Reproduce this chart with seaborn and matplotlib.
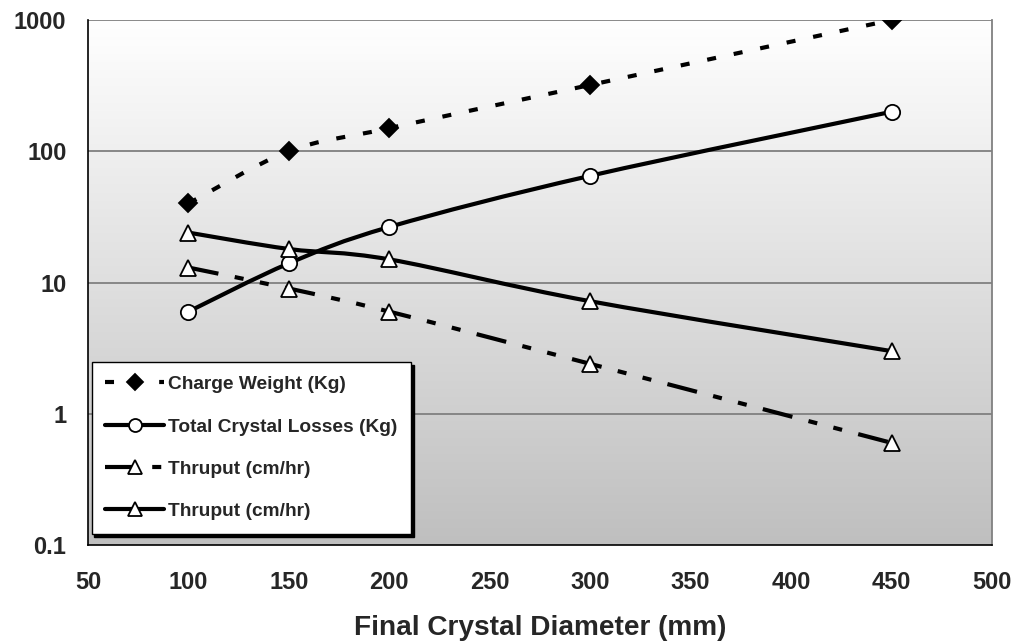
import numpy as np
import matplotlib
matplotlib.use("Agg")
import matplotlib.pyplot as plt
import seaborn as sns
import pandas as pd
from matplotlib.path import Path
from matplotlib.patches import PathPatch
from matplotlib.lines import Line2D
from matplotlib.colors import LinearSegmentedColormap

# ---- data ----
diameter = [100, 150, 200, 300, 450]
charge_weight = [40, 100, 150, 320, 1000]
crystal_losses = [6, 14, 26.5, 65, 200]
thruput_a = [13, 9, 6, 2.4, 0.6]
thruput_b = [24, 18, 15, 7.2, 3.0]
labels = ["Charge Weight (Kg)", "Total Crystal Losses (Kg)", "Thruput (cm/hr)", "Thruput (cm/hr)"]
x_ticks = [50, 100, 150, 200, 250, 300, 350, 400, 450, 500]
y_ticks = [0.1, 1, 10, 100, 1000]
y_ticklabels = ["0.1", "1", "10", "100", "1000"]

sns.set_style("white")
plt.rcParams["font.family"] = ["Liberation Sans", "DejaVu Sans"]
plt.rcParams["font.weight"] = "bold"
plt.rcParams["lines.scale_dashes"] = False

fig = plt.figure(figsize=(10.17, 6.44), dpi=100)
ax = fig.add_axes([88 / 1017, (644 - 545) / 644, 904 / 1017, 525 / 644])
ax.set_yscale("log")

# gradient background
grad = np.linspace(0, 1, 256).reshape(-1, 1)
cmap = LinearSegmentedColormap.from_list("g", ["#ffffff", "#bfbfbf"])
ax.imshow(grad, cmap=cmap, extent=[0, 1, 0, 1], transform=ax.transAxes,
          aspect="auto", zorder=0, origin="upper", interpolation="bicubic")

# gridlines
for yv in y_ticks[1:]:
    ax.axhline(yv, color="#808080", lw=1.3, zorder=1)

styles = [
    dict(ls=(0, (6.5, 13)), marker="D", mfc="black", ms=9),
    dict(ls="-", marker="o", mfc="white", ms=11),
    dict(ls=(0, (22, 12, 6.5, 12, 6.5, 12)), marker="^", mfc="white", ms=12),
    dict(ls="-", marker="^", mfc="white", ms=12),
]
series = [charge_weight, crystal_losses, thruput_a, thruput_b]
LW = 3.0


def smooth_path(xs, ys):
    xs = np.asarray(xs, float)
    ly = np.log10(np.asarray(ys, float))
    P = np.column_stack([xs, ly])
    n = len(P)
    verts = [P[0]]
    codes = [Path.MOVETO]
    for i in range(n - 1):
        p0 = P[i - 1] if i > 0 else P[i]
        p1 = P[i]
        p2 = P[i + 1]
        p3 = P[i + 2] if i + 2 < n else P[i + 1]
        c1 = p1 + (p2 - p0) / 6.0
        c2 = p2 - (p3 - p1) / 6.0
        verts += [c1, c2, p2]
        codes += [Path.CURVE4] * 3
    V = np.array(verts)
    V[:, 1] = 10 ** V[:, 1]
    return Path(V, codes)


handles = []
for ys, st, lab in zip(series, styles, labels):
    patch = PathPatch(smooth_path(diameter, ys), fill=False, edgecolor="black",
                      lw=LW, linestyle=st["ls"], capstyle="butt", zorder=3)
    ax.add_patch(patch)
    df = pd.DataFrame({"x": diameter, "y": ys})
    sns.lineplot(data=df, x="x", y="y", ax=ax, linestyle="none", marker=st["marker"],
                 markerfacecolor=st["mfc"], markeredgecolor="black", markeredgewidth=1.3,
                 markersize=st["ms"], zorder=4, legend=False)
    handles.append(Line2D([], [], color="black", lw=LW, linestyle=st["ls"],
                          marker=st["marker"], markerfacecolor=st["mfc"],
                          markeredgecolor="black", markeredgewidth=1.3,
                          markersize=st["ms"] * 0.85, dash_capstyle="butt"))

ax.set_xlim(50, 500)
ax.set_ylim(0.1, 1000)
ax.set_xticks(x_ticks)
ax.set_xticklabels([str(v) for v in x_ticks])
ax.set_yticks(y_ticks)
ax.set_yticklabels(y_ticklabels)
ax.minorticks_off()
ax.tick_params(axis="both", direction="out", length=5.5, width=1, color="#404040",
               labelsize=17)
ax.tick_params(axis="x", pad=13)
ax.tick_params(axis="y", pad=10)
for t in ax.get_xticklabels() + ax.get_yticklabels():
    t.set_fontweight("bold")

ax.set_xlabel("Final Crystal Diameter (mm)", fontsize=20.2, fontweight="bold", labelpad=15)
ax.set_ylabel("")

for s in ["left", "bottom"]:
    ax.spines[s].set_color("black")
    ax.spines[s].set_linewidth(1.2)
ax.spines["top"].set_visible(False)
ax.spines["right"].set_color("#808080")
ax.spines["right"].set_linewidth(1.3)

leg = ax.legend(handles, labels, loc="lower left", bbox_to_anchor=(0.004, 0.021),
                borderaxespad=0, frameon=True, fancybox=False,
                shadow={"color": "black", "alpha": 1},
                edgecolor="black", framealpha=1, prop={"weight": "bold", "size": 13.8},
                handlelength=3.05, labelspacing=1.3, borderpad=0.72, handletextpad=0.2)
leg.get_frame().set_linewidth(1.0)
leg.set_zorder(10)

fig.savefig("out.png", dpi=100)
